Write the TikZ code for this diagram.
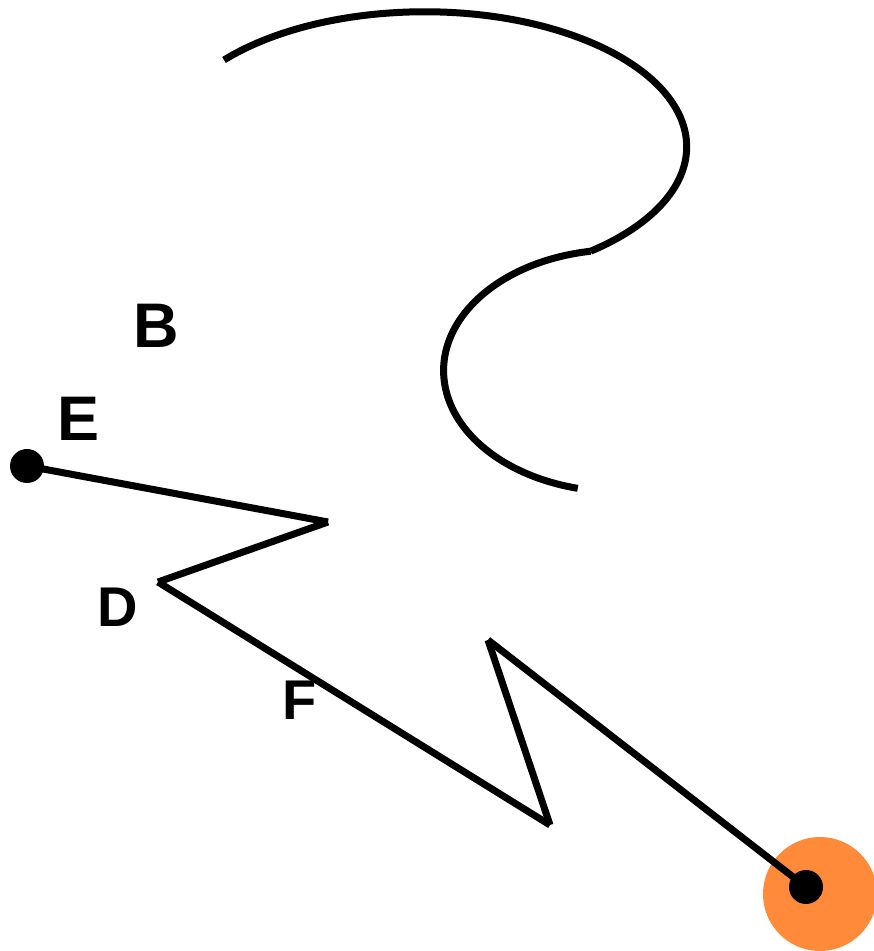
\documentclass[tikz,border=0pt]{standalone}
\usepackage{fontspec}
\setmainfont{Liberation Sans}
\definecolor{dotorange}{RGB}{255,138,58}
\begin{document}
\begin{tikzpicture}[x=1pt,y=1pt,
  ln/.style={line width=7pt, black},
  biglbl/.style={inner sep=0pt, font=\fontsize{63}{63}\selectfont\bfseries},
  smalllbl/.style={inner sep=0pt, font=\fontsize{56}{56}\selectfont\bfseries},
  blackdot/.style={circle, fill=black, inner sep=0pt, minimum size=34pt},
  orangedot/.style={circle, fill=dotorange, inner sep=0pt, minimum size=114pt}]
\useasboundingbox (0,0) rectangle (874,951);
% curve
\draw[ln] (224,891) arc[start angle=140, end angle=-50.7, x radius=262, y radius=135]
  coordinate (j);
\draw[ln] (j) arc[start angle=99.2, end angle=256.5, x radius=175, y radius=121];
% labels
\node[biglbl] (B) at (156,625) {B};
\node[biglbl] (E) at (79,532) {E};
\node[smalllbl] (D) at (118,344) {D};
\node[smalllbl] (F) at (300,251) {F};
% zigzag
\node[orangedot] (o) at (820,57) {};
\coordinate (p1) at (328,429);
\coordinate (p2) at (158,369);
\coordinate (p3) at (550,126);
\coordinate (p4) at (488,311);
\node[blackdot] (s) at (27,485) {};
\node[blackdot] (t) at (806,64) {};
\draw[ln] (s.center) -- (p1);
\draw[ln] (p1) -- (p2);
\draw[ln] (p2) -- (p3);
\draw[ln] (p3) -- (p4);
\draw[ln] (p4) -- (t.center);
\end{tikzpicture}
\end{document}
